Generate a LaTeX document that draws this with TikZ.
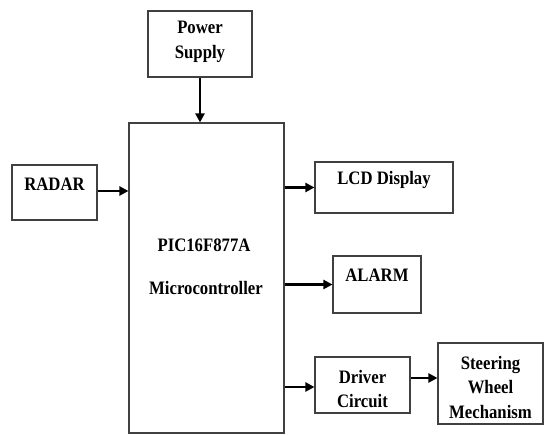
\documentclass[tikz,border=0pt]{standalone}
\usepackage{fontspec}
\setmainfont{Liberation Serif}[FakeStretch=0.88]
\usetikzlibrary{arrows.meta}
\begin{document}
\begin{tikzpicture}[x=1pt,y=-1pt,
  box/.style={draw=black!75,line width=1.1pt,inner sep=0pt},
  txt/.style={font=\fontsize{19}{24.5}\selectfont\bfseries,align=center,inner sep=0pt},
  arr/.style={line width=2.2pt,-{Triangle[length=9pt,width=9pt]}}]
\useasboundingbox[fill=white] (0,0) rectangle (545,435);
\node[box,minimum width=155pt,minimum height=310pt] (main) at (206.5,278) {};
\node[txt] (pic) at (204,245) {PIC16F877A};
\node[txt] (mc) at (206,288) {Microcontroller};
\node[box,minimum width=104pt,minimum height=66pt] (ps) at (200,44) {};
\node[txt] (pst) at (200,42) {Power\\Supply};
\node[box,minimum width=85pt,minimum height=55pt] (radar) at (54.5,192.5) {};
\node[txt] (radart) at (54.5,184) {RADAR};
\node[box,minimum width=138pt,minimum height=51pt] (lcd) at (384,187.5) {};
\node[txt] (lcdt) at (384,180) {LCD Display};
\node[box,minimum width=88pt,minimum height=57pt] (alarm) at (377,284.5) {};
\node[txt] (alarmt) at (377,275) {ALARM};
\node[box,minimum width=95pt,minimum height=56pt] (driver) at (362.5,385) {};
\node[txt] (drivert) at (362.5,389) {Driver\\Circuit};
\node[box,minimum width=105pt,minimum height=81pt] (steer) at (490.5,383.5) {};
\node[txt] (steert) at (490.5,387) {Steering\\Wheel\\Mechanism};
\draw[arr] (ps.south) -- (ps.south |- main.north);
\draw[arr] ([yshift=1.5pt]radar.east) -- ([yshift=1.5pt]radar.east -| main.west);
\draw[arr] (lcd.west -| main.east) -- (lcd.west);
\draw[arr] (alarm.west -| main.east) -- (alarm.west);
\draw[arr] ([yshift=-2pt]driver.west -| main.east) -- ([yshift=-2pt]driver.west);
\draw[arr] ([yshift=7pt]driver.east) -- ([yshift=7pt]driver.east -| steer.west);
\end{tikzpicture}
\end{document}
